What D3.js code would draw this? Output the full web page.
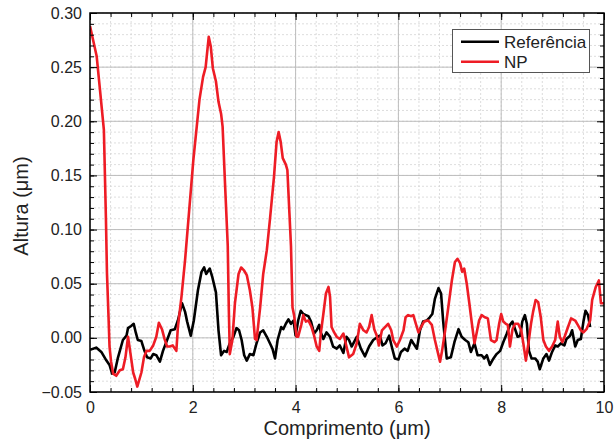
<!DOCTYPE html>
<html>
<head>
<meta charset="utf-8">
<script src="https://cdn.jsdelivr.net/npm/d3@7"></script>
<style>
  html, body { margin: 0; padding: 0; background: #fff; }
  svg { display: block; font-family: "Liberation Sans", Arial, sans-serif; }
</style>
</head>
<body>
<svg id="chart" width="615" height="441"></svg>
<script>
// Height profiles along the scan line (x in µm, height in µm)
const refX = [0.00,0.12,0.22,0.32,0.38,0.43,0.48,0.54,0.64,0.71,0.74,0.80,0.85,0.89,0.93,1.00,1.06,1.11,1.18,1.23,1.29,1.36,1.42,1.50,1.57,1.65,1.71,1.79,1.85,1.89,1.96,2.02,2.10,2.17,2.22,2.26,2.33,2.38,2.45,2.50,2.55,2.61,2.66,2.72,2.79,2.85,2.90,2.95,3.00,3.05,3.11,3.18,3.24,3.31,3.37,3.44,3.50,3.55,3.60,3.65,3.72,3.76,3.81,3.86,3.91,3.96,4.00,4.05,4.10,4.15,4.20,4.25,4.30,4.36,4.41,4.46,4.49,4.54,4.60,4.67,4.73,4.80,4.86,4.93,4.99,5.04,5.09,5.19,5.27,5.35,5.43,5.51,5.60,5.64,5.69,5.75,5.82,5.87,5.93,6.00,6.05,6.12,6.18,6.25,6.29,6.36,6.42,6.48,6.55,6.61,6.66,6.71,6.78,6.83,6.87,6.94,7.02,7.09,7.17,7.23,7.30,7.36,7.41,7.48,7.54,7.62,7.67,7.72,7.78,7.85,7.91,7.98,8.04,8.11,8.17,8.22,8.27,8.32,8.37,8.41,8.46,8.50,8.54,8.59,8.66,8.71,8.75,8.82,8.88,8.93,8.99,9.05,9.10,9.16,9.23,9.27,9.34,9.38,9.44,9.49,9.55,9.60,9.64,9.69,9.73];
const refY = [-0.011,-0.009,-0.013,-0.021,-0.025,-0.033,-0.032,-0.019,-0.002,0.002,0.009,0.011,0.013,0.005,-0.002,-0.003,-0.012,-0.018,-0.019,-0.015,-0.016,-0.022,-0.012,-0.002,0.007,0.008,0.016,0.032,0.024,0.015,0.002,0.016,0.044,0.061,0.065,0.059,0.064,0.056,0.042,0.007,-0.016,-0.012,-0.013,-0.005,0.001,0.009,0.007,-0.002,-0.016,-0.021,-0.015,-0.016,-0.005,0.005,0.007,0.001,-0.005,-0.010,-0.019,-0.002,0.010,0.008,0.013,0.017,0.013,0.016,0.002,0.016,0.025,0.022,0.021,0.020,0.015,0.004,0.007,0.012,0.005,-0.001,0.005,0.001,-0.008,-0.010,-0.007,-0.014,0.001,-0.002,-0.008,0.001,-0.010,-0.017,-0.008,-0.002,0.001,0.002,-0.007,-0.005,0.002,-0.008,-0.019,-0.020,-0.013,-0.010,-0.012,-0.002,-0.005,-0.010,0.007,0.015,0.016,0.019,0.022,0.036,0.046,0.041,0.016,-0.019,-0.018,-0.004,0.008,0.001,-0.002,-0.004,-0.013,-0.005,-0.016,-0.016,-0.019,-0.016,-0.025,-0.019,-0.015,-0.012,-0.004,0.004,0.012,0.015,0.008,0.001,0.002,0.015,0.021,0.013,-0.012,-0.019,-0.019,-0.022,-0.029,-0.019,-0.015,-0.021,-0.013,-0.007,-0.008,-0.005,-0.007,-0.001,0.002,0.007,-0.008,-0.002,-0.001,0.015,0.025,0.021,0.010];

const npX = [0.00,0.13,0.19,0.27,0.31,0.33,0.36,0.38,0.41,0.45,0.51,0.58,0.64,0.69,0.74,0.78,0.84,0.88,0.92,1.00,1.05,1.10,1.16,1.23,1.29,1.34,1.40,1.45,1.50,1.55,1.61,1.68,1.71,1.78,1.85,2.01,2.13,2.20,2.25,2.31,2.35,2.39,2.45,2.50,2.55,2.58,2.63,2.68,2.70,2.72,2.77,2.82,2.89,2.94,3.00,3.05,3.11,3.16,3.21,3.24,3.31,3.37,3.44,3.50,3.58,3.63,3.67,3.71,3.75,3.81,3.84,3.88,3.91,3.94,3.97,4.02,4.05,4.11,4.15,4.20,4.25,4.31,4.36,4.41,4.46,4.49,4.54,4.59,4.64,4.67,4.70,4.75,4.80,4.86,4.93,4.99,5.04,5.12,5.19,5.25,5.32,5.38,5.43,5.48,5.53,5.58,5.62,5.68,5.74,5.80,5.86,5.90,5.97,6.03,6.10,6.14,6.19,6.25,6.29,6.34,6.39,6.44,6.50,6.58,6.65,6.71,6.76,6.81,6.85,6.91,6.97,7.04,7.10,7.15,7.20,7.24,7.28,7.33,7.38,7.43,7.48,7.52,7.57,7.62,7.68,7.74,7.80,7.87,7.91,7.96,8.00,8.04,8.09,8.13,8.17,8.22,8.27,8.33,8.39,8.43,8.48,8.53,8.58,8.62,8.67,8.72,8.77,8.82,8.87,8.93,8.99,9.05,9.10,9.14,9.19,9.24,9.30,9.36,9.44,9.49,9.55,9.60,9.66,9.73,9.77,9.84,9.90,9.94,10.00];
const npY = [0.288,0.260,0.231,0.192,0.110,0.060,0.020,-0.008,-0.022,-0.033,-0.035,-0.030,-0.029,-0.018,0.001,-0.012,-0.032,-0.038,-0.045,-0.032,-0.018,-0.012,-0.012,-0.007,0.001,0.014,0.008,-0.001,-0.008,-0.008,-0.007,-0.012,0.010,0.038,0.072,0.164,0.220,0.241,0.250,0.278,0.269,0.249,0.237,0.218,0.207,0.195,0.139,0.085,0.028,-0.015,-0.002,0.032,0.059,0.065,0.062,0.058,0.044,0.028,-0.001,-0.002,0.028,0.059,0.081,0.109,0.149,0.181,0.190,0.181,0.166,0.160,0.155,0.115,0.085,0.028,0.021,0.001,0.001,0.012,0.021,0.015,0.016,0.010,0.002,-0.008,-0.012,0.004,0.022,0.041,0.047,0.038,0.010,0.005,0.001,-0.001,0.004,-0.008,-0.018,-0.015,-0.005,0.013,0.007,0.005,0.010,0.021,0.008,0.002,-0.007,0.007,0.010,0.013,0.007,-0.002,-0.008,-0.002,0.007,0.019,0.021,0.020,0.021,0.013,0.005,0.010,0.015,0.016,0.012,-0.002,-0.012,-0.022,-0.012,0.007,0.028,0.053,0.070,0.073,0.069,0.061,0.064,0.050,0.032,0.013,-0.005,0.004,0.016,0.021,0.019,0.018,-0.002,-0.004,-0.002,0.013,0.022,0.015,0.013,0.012,-0.008,0.008,0.013,0.013,0.007,-0.005,-0.021,-0.005,0.013,0.024,0.035,0.033,0.019,-0.002,-0.008,-0.012,-0.008,-0.002,0.015,0.001,-0.004,0.002,0.010,0.018,0.016,0.012,0.007,0.005,0.008,0.016,0.035,0.047,0.053,0.032,0.032];

const seriesNames = ["Referência", "NP"];
const seriesColors = ["#000000", "#ee1c25"];

const xMajorTicks = [0, 2, 4, 6, 8, 10];
const yMajorTicks = [-0.05, 0.00, 0.05, 0.10, 0.15, 0.20, 0.25, 0.30];

const svg = d3.select("#chart");
const W = 615, H = 441;
const margin = { left: 90, right: 11, top: 13, bottom: 49 };
const pw = W - margin.left - margin.right;
const ph = H - margin.top - margin.bottom;

const x = d3.scaleLinear().domain([0, 10]).range([margin.left, margin.left + pw]);
const y = d3.scaleLinear().domain([-0.05, 0.30]).range([margin.top + ph, margin.top]);

const xMinor = d3.range(0, 10.0001, 0.4).map(v => +v.toFixed(2));
const yMinor = d3.range(-0.05, 0.3001, 0.01).map(v => +v.toFixed(3));

// minor grid (dashed)
const grid = svg.append("g");
grid.selectAll(".gxm").data(xMinor).join("line")
  .attr("x1", d => x(d)).attr("x2", d => x(d))
  .attr("y1", margin.top).attr("y2", margin.top + ph)
  .attr("stroke", "#d4d4d4").attr("stroke-width", 0.8).attr("stroke-dasharray", "2,2");
grid.selectAll(".gym").data(yMinor).join("line")
  .attr("y1", d => y(d)).attr("y2", d => y(d))
  .attr("x1", margin.left).attr("x2", margin.left + pw)
  .attr("stroke", "#d4d4d4").attr("stroke-width", 0.8).attr("stroke-dasharray", "2,2");
// major grid (solid)
grid.selectAll(".gx").data(xMajorTicks).join("line")
  .attr("x1", d => x(d)).attr("x2", d => x(d))
  .attr("y1", margin.top).attr("y2", margin.top + ph)
  .attr("stroke", "#bdbdbd").attr("stroke-width", 1);
grid.selectAll(".gy").data(yMajorTicks).join("line")
  .attr("y1", d => y(d)).attr("y2", d => y(d))
  .attr("x1", margin.left).attr("x2", margin.left + pw)
  .attr("stroke", "#bdbdbd").attr("stroke-width", 1);

// clip for data
svg.append("clipPath").attr("id", "plotclip").append("rect")
  .attr("x", margin.left).attr("y", margin.top).attr("width", pw).attr("height", ph);

const line = d3.line().x(d => x(d[0])).y(d => y(d[1]));
const refData = refX.map((v, i) => [v, refY[i]]);
const npData = npX.map((v, i) => [v, npY[i]]);

const plot = svg.append("g").attr("clip-path", "url(#plotclip)");
plot.append("path").datum(refData).attr("d", line)
  .attr("fill", "none").attr("stroke", seriesColors[0]).attr("stroke-width", 2.6)
  .attr("stroke-linejoin", "round");
plot.append("path").datum(npData).attr("d", line)
  .attr("fill", "none").attr("stroke", seriesColors[1]).attr("stroke-width", 2.6)
  .attr("stroke-linejoin", "round");

// axes with inward ticks on all four sides
function tickedAxis(axisFn, scale, major, minor, transform, labels) {
  const gMinor = svg.append("g").attr("transform", transform)
    .call(axisFn(scale).tickValues(minor).tickSizeInner(-4).tickSizeOuter(0).tickFormat(""));
  gMinor.select(".domain").remove();
  gMinor.selectAll("line").attr("stroke", "#000");
  const gMajor = svg.append("g").attr("transform", transform)
    .call(axisFn(scale).tickValues(major).tickSizeInner(-7).tickSizeOuter(0)
      .tickPadding(labels ? 15 : 0)
      .tickFormat(labels ? labels : ""));
  gMajor.select(".domain").remove();
  gMajor.selectAll("line").attr("stroke", "#000");
  return gMajor;
}

const gxb = tickedAxis(d3.axisBottom, x, xMajorTicks, xMinor, `translate(0,${margin.top + ph})`, d3.format("d"));
gxb.selectAll("text").attr("font-size", 16).attr("fill", "#222").attr("dy", "0.71em").attr("y", 10);
tickedAxis(d3.axisTop, x, xMajorTicks, xMinor, `translate(0,${margin.top})`, null);
const gyl = tickedAxis(d3.axisLeft, y, yMajorTicks, yMinor, `translate(${margin.left},0)`, d3.format(".2f"));
gyl.selectAll("text").attr("font-size", 16).attr("fill", "#222").attr("x", -8);
tickedAxis(d3.axisRight, y, yMajorTicks, yMinor, `translate(${margin.left + pw},0)`, null);

// frame
svg.append("rect").attr("x", margin.left).attr("y", margin.top)
  .attr("width", pw).attr("height", ph)
  .attr("fill", "none").attr("stroke", "#000").attr("stroke-width", 1.5);

// axis titles
svg.append("text").attr("x", margin.left + pw / 2).attr("y", 435)
  .attr("text-anchor", "middle").attr("font-size", 20).attr("fill", "#222")
  .text("Comprimento (μm)");
svg.append("text").attr("transform", "translate(28,206) rotate(-90)")
  .attr("text-anchor", "middle").attr("font-size", 20).attr("fill", "#222")
  .text("Altura (μm)");

// legend
const lg = svg.append("g");
lg.append("rect").attr("x", 452.5).attr("y", 29.5).attr("width", 137).attr("height", 43)
  .attr("fill", "#fff").attr("stroke", "#555").attr("stroke-width", 1);
seriesNames.forEach((name, i) => {
  const ly = 41.7 + i * 20;
  lg.append("line").attr("x1", 461).attr("x2", 499).attr("y1", ly).attr("y2", ly)
    .attr("stroke", seriesColors[i]).attr("stroke-width", 2.6);
  lg.append("text").attr("x", 504).attr("y", ly + 6.3)
    .attr("font-size", 17).attr("fill", "#222").text(name);
});
</script>
</body>
</html>
